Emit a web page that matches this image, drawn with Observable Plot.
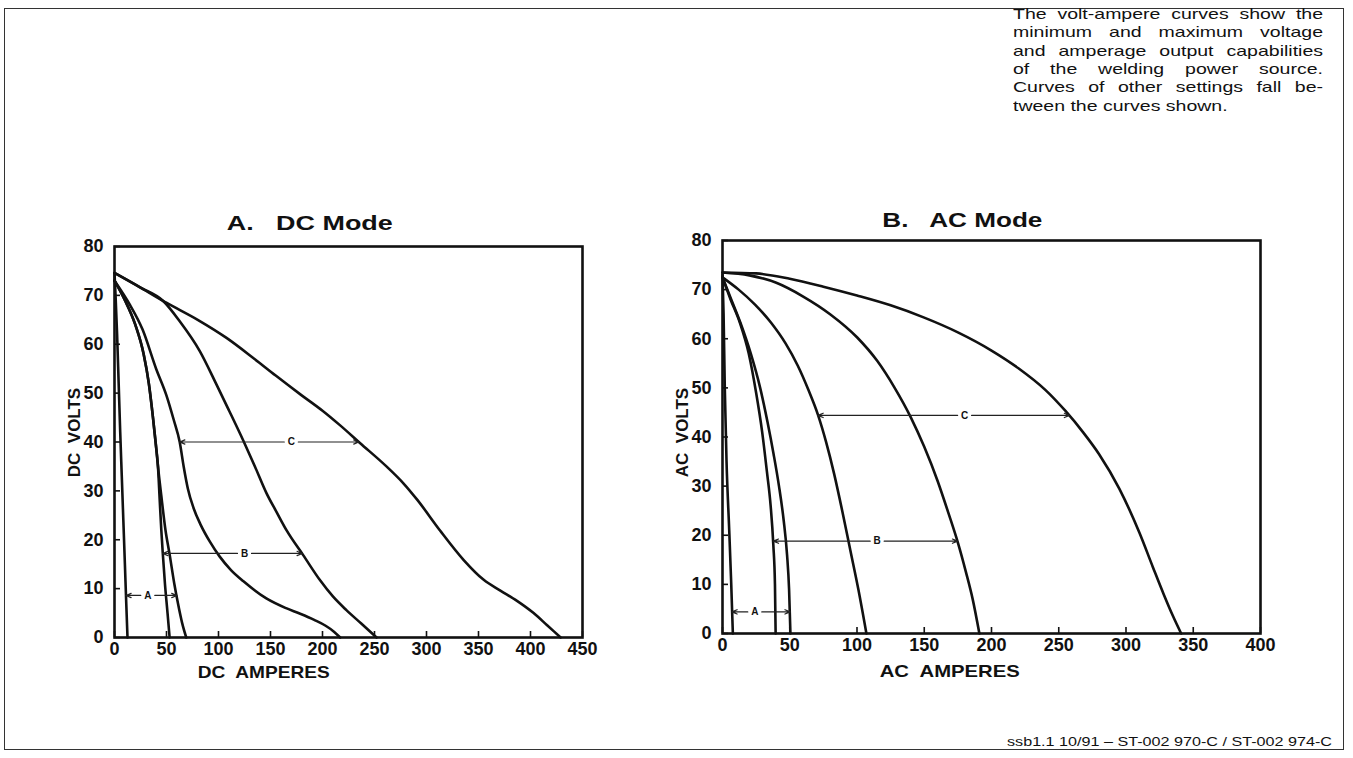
<!DOCTYPE html>
<html>
<head>
<meta charset="utf-8">
<script src="https://cdn.jsdelivr.net/npm/d3@7"></script>
<script src="https://cdn.jsdelivr.net/npm/@observablehq/plot@0.6"></script>
<style>
  html, body { margin: 0; padding: 0; background: #fff; }
  #page { position: relative; width: 1353px; height: 758px; overflow: hidden; background: #fff;
          font-family: "Liberation Sans", Arial, Helvetica, sans-serif; color: #111; }
  .abs { position: absolute; white-space: pre; }
  #border { position: absolute; left: 4px; top: 8px; width: 1340px; height: 742px;
            border: 1.5px solid #333; box-sizing: border-box; }
  .para { position: absolute; font-size: 15px; line-height: 18px; transform-origin: 0 0; white-space: nowrap; }
  .just { text-align: justify; text-align-last: justify; }
  .chart { position: absolute; }
</style>
</head>
<body>
<div id="page">
  <div id="border"></div>
</div>
<script>
// ---------- tick values ----------
const dcAmpTicks = [0, 50, 100, 150, 200, 250, 300, 350, 400, 450];
const acAmpTicks = [0, 50, 100, 150, 200, 250, 300, 350, 400];
const voltTicks = [0, 10, 20, 30, 40, 50, 60, 70, 80];

// ---------- DC mode curves: [amperes, volts] ----------
const dcAMin = [[0,74.5],[1,70],[2.5,62],[4,52],[5.5,42],[7,33],[8.5,24],[10,15],[11.3,7],[12.5,0]];
const dcAMax = [[0,73],[10,69],[20,64],[28,58],[33,52],[37,45],[39.5,40],[41.8,35],[45,29],[49,22],[53,17],[57.5,11],[61,7],[65,3],[69,0]];
const dcBMin = [[0,73],[10,69],[20,64],[28,58],[33,52],[37,45],[39.5,40],[41.8,35],[43.5,28],[45,22],[46.5,17],[48.5,11],[51,5],[53,0]];
const dcBMax = [[0,74.6],[25,71.6],[46.6,68.9],[62.7,64.7],[82,58.6],[98,51.8],[110,46.5],[123.8,40.3],[135,35],[146,29.6],[156,25.6],[165.5,21.9],[181.6,16.8],[197.7,11.7],[210,8.4],[223,5.6],[237,2.9],[252,0]];
const dcCMin = [[0,73],[15,68],[27,63],[40,55],[50,49.5],[57,44.5],[62.7,40],[66.5,35],[70.5,30.5],[76,26.5],[83,23],[92,19.5],[101,16.6],[112,13.8],[124,11.5],[146,8],[165,6],[178,4.9],[192,3.6],[203,2.4],[211,1.2],[217,0]];
const dcCMax = [[0,74.6],[25,71.6],[49.8,68.5],[80,65],[107.7,61.3],[133.4,57.2],[155,53.6],[178.4,49.8],[200,46.4],[217,43.4],[236,39.8],[262,34.9],[278,31.5],[291,28.2],[313,21.9],[336,15.8],[355,11.8],[371,9.6],[387,7.5],[403,5],[416,2.5],[429,0]];

// ---------- AC mode curves: [amperes, volts] ----------
const acAMin = [[0,73],[0.8,65],[1.7,50],[3,35],[5,21],[6.5,10],[7.7,0]];
const acAMax = [[0,72.5],[6.5,68],[13.4,63.2],[21,57],[28,50],[33.5,43],[38,36.5],[42,30],[45.5,23],[48,16],[49.5,9],[50.5,0]];
const acBMin = [[0,72.5],[6,68],[13,63.2],[19.5,57],[25,49],[29.5,41],[33,33],[35.8,26],[37.8,18],[39,10],[39.5,0]];
const acBMax = [[0,73.5],[20,72.9],[40,71.4],[60,68.6],[80,65],[100,60.3],[115,55.5],[128,50],[140,44],[150,38],[160,31],[168,24.5],[175,18.5],[181,12.5],[186,7],[191,0]];
const acCMin = [[0,72.5],[12,70],[24,67],[36,63.3],[47,59],[56,54.5],[64,49.5],[71,44.5],[77,39],[83,32.5],[89,25],[95,17],[101,9],[107,0]];
const acCMax = [[0,73.5],[25,73.3],[50,72.2],[75,70.6],[100,68.8],[125,66.8],[150,64.3],[175,61.3],[200,57.6],[220,54],[240,49.6],[255,45.3],[268,41],[280,36.5],[295,29.5],[310,20.5],[320,13.5],[328,8],[335,3.5],[341,0]];

// ---------- range arrows (volts, from-amps, to-amps, label position amps) ----------
const dcRangeNames = ["A", "B", "C"];
const dcRangeVolts = [8.6, 17.2, 40];
const dcRangeFrom = [11, 46.4, 62.7];
const dcRangeTo = [60, 180.5, 235];
const dcRangeLabelAt = [32, 125, 170];

const acRangeNames = ["A", "B", "C"];
const acRangeVolts = [4.4, 18.8, 44.4];
const acRangeFrom = [7, 37.8, 71];
const acRangeTo = [50.3, 174.8, 258];
const acRangeLabelAt = [24, 115, 180];

function rangeRows(names, volts, from, to, at) {
  return names.map((n, i) => ({name: n, v: volts[i], from: from[i], to: to[i], at: at[i]}));
}

function makeChart({curves, ranges, ampTicks, xMax, width, height, margins}) {
  const ink = "#111";
  return Plot.plot({
    width, height,
    marginLeft: margins[0], marginRight: margins[1], marginTop: margins[2], marginBottom: margins[3],
    x: {domain: [0, xMax]},
    y: {domain: [0, 80]},
    style: {fontFamily: "'Liberation Sans', Arial, Helvetica, sans-serif", fontSize: "18px",
            fontWeight: "bold", color: ink, background: "transparent", overflow: "visible"},
    marks: [
      Plot.axisX({ticks: ampTicks, tickSize: -6, tickPadding: 11, tickFormat: d => String(d), label: null, strokeWidth: 1.6}),
      Plot.axisY({ticks: voltTicks, tickSize: -6, tickPadding: 17, tickFormat: d => String(d), label: null, strokeWidth: 1.6}),
      ...curves.map(c => Plot.line(c, {x: d => d[0], y: d => d[1], curve: "monotone-x",
                                       stroke: ink, strokeWidth: 2.6, strokeLinejoin: "round"})),
      Plot.arrow(ranges, {x1: "at", y1: "v", x2: "from", y2: "v", insetStart: 7, headLength: 7, headAngle: 45,
                          stroke: "#222", strokeWidth: 1.2}),
      Plot.arrow(ranges, {x1: "at", y1: "v", x2: "to", y2: "v", insetStart: 7, headLength: 7, headAngle: 45,
                          stroke: "#222", strokeWidth: 1.2}),
      Plot.text(ranges, {x: "at", y: "v", text: "name", fontSize: 10, fontWeight: "bold", fill: ink}),
      Plot.frame({stroke: ink, strokeWidth: 2.6})
    ]
  });
}

const page = document.getElementById("page");

const dc = makeChart({
  curves: [dcAMin, dcAMax, dcBMin, dcBMax, dcCMin, dcCMax],
  ranges: rangeRows(dcRangeNames, dcRangeVolts, dcRangeFrom, dcRangeTo, dcRangeLabelAt),
  ampTicks: dcAmpTicks, xMax: 450, width: 600, height: 490, margins: [84, 48, 46, 53]
});
dc.classList.add("chart"); dc.style.left = "30px"; dc.style.top = "200px";
page.appendChild(dc);

const ac = makeChart({
  curves: [acAMin, acAMax, acBMin, acBMax, acCMin, acCMax],
  ranges: rangeRows(acRangeNames, acRangeVolts, acRangeFrom, acRangeTo, acRangeLabelAt),
  ampTicks: acAmpTicks, xMax: 400, width: 660, height: 490, margins: [82, 40, 40, 57]
});
ac.classList.add("chart"); ac.style.left = "640px"; ac.style.top = "200px";
page.appendChild(ac);

// ---------- text helpers ----------
function label(text, cx, cy, font, opts = {}) {
  const el = document.createElement("div");
  el.className = "abs";
  el.textContent = text;
  el.style.font = font;
  el.style.lineHeight = "1";
  page.appendChild(el);
  const r = el.getBoundingClientRect();
  const sx = opts.width ? opts.width / r.width : 1;
  el.style.left = (cx - r.width / 2) + "px";
  el.style.top = (cy - r.height / 2) + "px";
  el.style.transformOrigin = "50% 50%";
  el.style.transform = (opts.rotate ? `rotate(${opts.rotate}deg) ` : "") + `scaleX(${sx})`;
  return el;
}

label("A.   DC Mode", 310, 222, "bold 21px 'Liberation Sans', Arial, sans-serif", {width: 166});
label("B.   AC Mode", 962, 219, "bold 21px 'Liberation Sans', Arial, sans-serif", {width: 160});
label("DC  AMPERES", 264, 672, "bold 17px 'Liberation Sans', Arial, sans-serif", {width: 132});
label("AC  AMPERES", 950, 671, "bold 17px 'Liberation Sans', Arial, sans-serif", {width: 140});
label("DC  VOLTS", 75, 432, "bold 17px 'Liberation Sans', Arial, sans-serif", {rotate: -90});
label("AC  VOLTS", 683, 432, "bold 17px 'Liberation Sans', Arial, sans-serif", {rotate: -90});

// ---------- explanatory paragraph ----------
const noteLines = [
  "The volt-ampere curves show the",
  "minimum and maximum voltage",
  "and amperage output capabilities",
  "of the welding power source.",
  "Curves of other settings fall be-",
  "tween the curves shown."
];
const noteScale = 1.3, noteLeft = 1013, noteWidth = 310, noteTop = 5, notePitch = 18.3;
noteLines.forEach((t, i) => {
  const el = document.createElement("div");
  el.className = "para" + (i < noteLines.length - 1 ? " just" : "");
  el.textContent = t;
  el.style.left = noteLeft + "px";
  el.style.top = (noteTop + i * notePitch) + "px";
  el.style.width = (noteWidth / noteScale) + "px";
  el.style.transform = `scaleX(${noteScale})`;
  page.appendChild(el);
});

// ---------- caption ----------
(function () {
  const el = document.createElement("div");
  el.className = "abs";
  el.textContent = "ssb1.1 10/91 \u2013 ST-002 970-C / ST-002 974-C";
  el.style.font = "13px 'Liberation Sans', Arial, sans-serif";
  el.style.lineHeight = "1";
  page.appendChild(el);
  const r = el.getBoundingClientRect();
  const target = 325;
  el.style.transformOrigin = "0 50%";
  el.style.transform = `scaleX(${target / r.width})`;
  el.style.left = (1332 - target) + "px";
  el.style.top = (741 - r.height / 2) + "px";
})();
</script>
</body>
</html>
